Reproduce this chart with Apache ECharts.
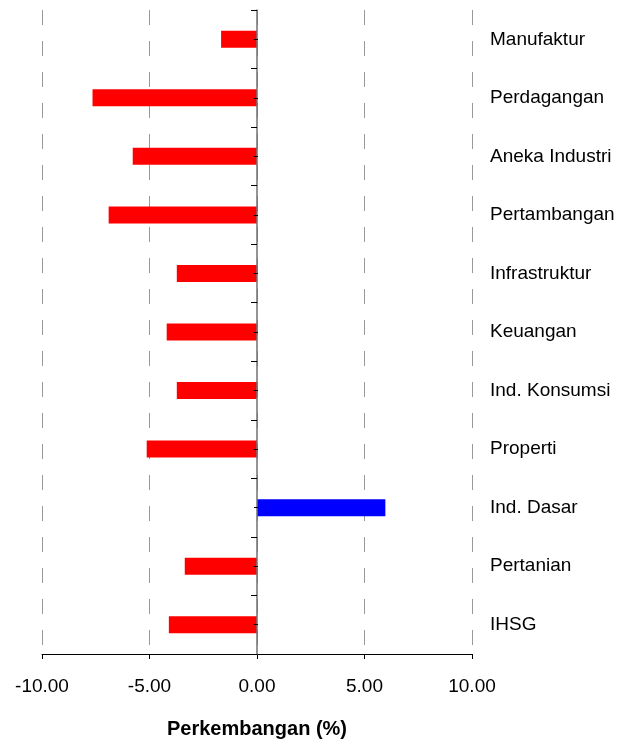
<!DOCTYPE html>
<html>
<head>
<meta charset="utf-8">
<script src="https://cdn.jsdelivr.net/npm/echarts@6/dist/echarts.min.js"></script>
<style>html,body{margin:0;padding:0;background:#fff;}#c{width:638px;height:744px;}</style>
</head>
<body>
<div id="c"></div>
<script>
const categories = ['Manufaktur','Perdagangan','Aneka Industri','Pertambangan','Infrastruktur','Keuangan','Ind. Konsumsi','Properti','Ind. Dasar','Pertanian','IHSG'];
const values = [-1.67, -7.65, -5.78, -6.90, -3.73, -4.20, -3.73, -5.13, 5.97, -3.36, -4.10];
const xTicks = [-10, -5, 0, 5, 10];
const xName = 'Perkembangan (%)';

const FONT = '"Liberation Sans", Arial, sans-serif';
const chart = echarts.init(document.getElementById('c'), null, {renderer: 'canvas'});
chart.setOption({
  animation: false,
  backgroundColor: '#fff',
  grid: {left: 42, right: 166, top: 10, bottom: 87, containLabel: false},
  xAxis: {
    type: 'value',
    min: xTicks[0], max: xTicks[xTicks.length - 1], interval: 5,
    name: xName, nameLocation: 'middle', nameGap: 65,
    nameTextStyle: {fontFamily: FONT, fontSize: 20, fontWeight: 'bold', color: '#000'},
    axisLine: {show: true, onZero: false, lineStyle: {color: '#000', width: 1}},
    axisTick: {show: true, length: 5, lineStyle: {color: '#000'}},
    axisLabel: {margin: 23, fontFamily: FONT, fontSize: 19, color: '#000',
      formatter: v => v.toFixed(2)},
    splitLine: {show: true, lineStyle: {color: '#999', width: 1, type: [15, 16]}}
  },
  yAxis: [
    {
      type: 'category', data: categories, inverse: true, position: 'left', z: 10,
      axisLine: {show: true, onZero: true, lineStyle: {color: '#707070', width: 1.5}},
      axisTick: {show: true, length: 6, lineStyle: {color: '#000'}},
      axisLabel: {show: false}, splitLine: {show: false}
    },
    {
      type: 'category', data: categories, inverse: true, position: 'left', offset: -216, z: 10,
      axisLine: {show: false, onZero: false},
      axisTick: {show: true, alignWithLabel: true, length: 4, lineStyle: {color: '#000'}},
      axisLabel: {show: false}, splitLine: {show: false}
    },
    {
      type: 'category', data: categories, inverse: true, position: 'right',
      axisLine: {show: false, onZero: false},
      axisTick: {show: false},
      axisLabel: {show: true, margin: 18, fontFamily: FONT, fontSize: 19, color: '#000', align: 'left'},
      splitLine: {show: false}
    }
  ],
  series: [{
    type: 'bar', yAxisIndex: 0, data: values, barWidth: 17,
    itemStyle: {color: p => p.value < 0 ? '#FF0000' : '#0000FF'}
  }]
});
</script>
</body>
</html>
